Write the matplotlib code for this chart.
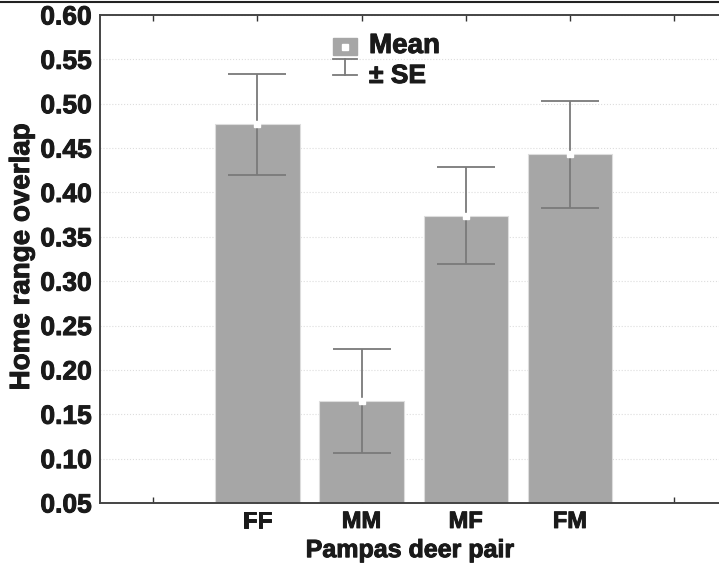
import numpy as np
import matplotlib.pyplot as plt
import matplotlib.patheffects as pe
from matplotlib.lines import Line2D
from matplotlib.patches import Rectangle

# home range overlap per pampas deer pair (mean +/- SE)
pairs = ["FF", "MM", "MF", "FM"]
means = [0.477, 0.165, 0.374, 0.443]
se = [0.057, 0.059, 0.055, 0.060]

bar_col = "#a6a6a6"
err_col = "#7a7a7a"
txt_col = "#1a1a1a"
font = ["Liberation Sans", "DejaVu Sans"]
heavy = [pe.withStroke(linewidth=0.7, foreground=txt_col)]

fig = plt.figure(figsize=(7.19, 5.63), dpi=100)
ax = fig.add_axes([100 / 719, 1 - 503 / 563, 619 / 719, 488 / 563])

x = np.arange(1, len(pairs) + 1)
ax.bar(x, means, width=0.81, bottom=0, color=bar_col, edgecolor="#dddddd",
       linewidth=0.8, zorder=2)
ax.errorbar(x, means, yerr=se, fmt="none", ecolor=err_col, elinewidth=1.3,
            capsize=21, capthick=1.3, zorder=3)
ax.plot(x, means, "s", ms=5, mfc="white", mec="white", zorder=4)

ax.set_xlim(-0.51, 5.43)
ax.set_ylim(0.05, 0.60)
yt = np.arange(0.05, 0.601, 0.05)
ax.set_yticks(yt)
ax.set_yticklabels([f"{v:.2f}" for v in yt], fontsize=19, fontweight="bold", family=font,
                   color=txt_col, path_effects=heavy)
ax.set_xticks(np.arange(0, 6))
ax.set_xticklabels([""] + pairs + [""], fontsize=17, fontweight="bold", family=font,
                   color=txt_col, path_effects=heavy)
ax.tick_params(axis="x", direction="in", length=4, width=1, color="#333333",
               top=True, pad=5)
ax.tick_params(axis="y", length=0, pad=6)
ax.grid(axis="y", linestyle=":", color="#dddddd", linewidth=0.8, zorder=0)

for side in ["left", "bottom", "top"]:
    ax.spines[side].set_color("#444444")
    ax.spines[side].set_linewidth(1.4)
ax.spines["right"].set_visible(False)

ax.set_xlabel("Pampas deer pair", fontsize=18, fontweight="bold", family=font,
              color=txt_col, path_effects=heavy)
ax.set_ylabel("Home range overlap", fontsize=20, fontweight="bold", family=font,
              color=txt_col, path_effects=heavy)
ax.xaxis.set_label_coords((410 - 100) / 619, -0.072)
ax.yaxis.set_label_coords(-(100 - 35) / 619, (503 - 257) / 488)

# hand made legend, like the original software draws it
lx0, lx1 = (333 - 100) / 619, (357 - 100) / 619
ax.add_patch(Rectangle((lx0, (503 - 55) / 488), lx1 - lx0, 17 / 488,
                       transform=ax.transAxes, color=bar_col, clip_on=False, zorder=5))
ax.plot([(lx0 + lx1) / 2], [(503 - 46.5) / 488], "s", ms=5, mfc="white", mec="white",
        transform=ax.transAxes, zorder=6)
cx = (lx0 + lx1) / 2
ax.plot([lx0, lx1], [(503 - 59) / 488] * 2, color=err_col, lw=1.3, transform=ax.transAxes)
ax.plot([lx0, lx1], [(503 - 75) / 488] * 2, color=err_col, lw=1.3, transform=ax.transAxes)
ax.plot([cx, cx], [(503 - 59) / 488, (503 - 75) / 488], color=err_col, lw=1.3,
        transform=ax.transAxes)
ax.text((369 - 100) / 619, (503 - 46) / 488, "Mean", transform=ax.transAxes,
        fontsize=20, fontweight="bold", family=font, va="center", ha="left",
        color=txt_col, path_effects=heavy)
ax.text((369 - 100) / 619, (503 - 76) / 488, "± SE", transform=ax.transAxes,
        fontsize=19, fontweight="bold", family=font, va="center", ha="left",
        color=txt_col, path_effects=heavy)

# thin frame line along the top of the figure
fig.add_artist(Line2D([0, 1], [1 - 1.5 / 563] * 2, color="#222222", lw=1.5))

fig.savefig("out.png", dpi=100)
